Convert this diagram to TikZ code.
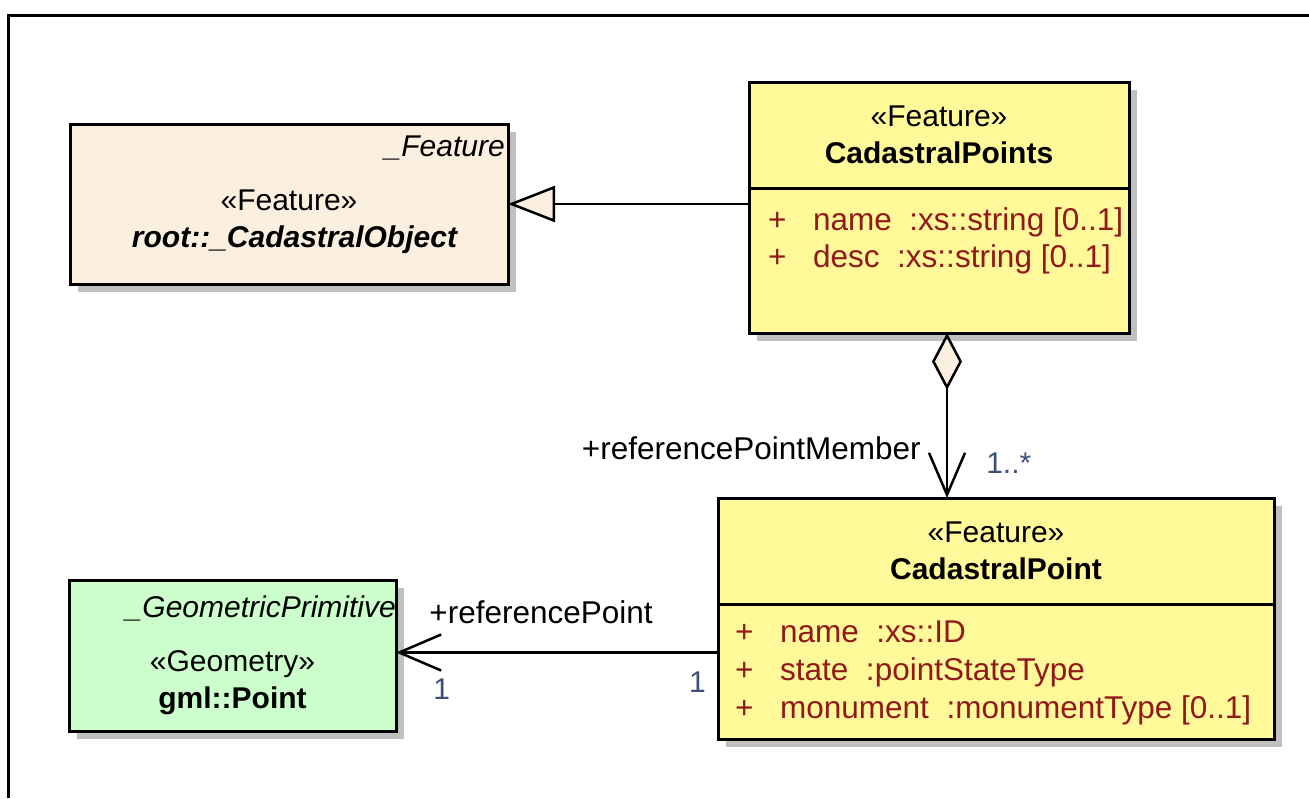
\documentclass[tikz,border=0pt]{standalone}
\usepackage{fontspec}
\setmainfont{Liberation Sans}
\usepackage{tikz}
\usetikzlibrary{arrows.meta,positioning,shadows}

\definecolor{featyellow}{RGB}{255,249,153}
\definecolor{cadbeige}{RGB}{251,240,224}
\definecolor{geomgreen}{RGB}{204,255,204}
\definecolor{attrred}{RGB}{145,25,25}
\definecolor{multblue}{RGB}{60,80,120}
\definecolor{shadowgray}{RGB}{192,192,192}

\newcommand{\vis}{\makebox[45pt][l]{+}}

\begin{document}
\begin{tikzpicture}
[x=1pt,y=-1pt,font=\fontsize{30}{37}\selectfont,
umlclass/.style={draw,line width=3pt,outer sep=0pt,inner sep=0pt,align=center,
  drop shadow={shadow xshift=8pt,shadow yshift=-8pt,fill=shadowgray,opacity=1}},
feature/.style={umlclass,fill=featyellow},
rootclass/.style={umlclass,fill=cadbeige},
geometry/.style={umlclass,fill=geomgreen},
title/.style={inner sep=0pt,align=center},
tagline/.style={inner sep=0pt,font=\fontsize{30}{37}\selectfont\itshape,anchor=east},
attrs/.style={inner sep=0pt,align=left,text=attrred,anchor=north west,font=\fontsize{31.5}{37}\selectfont},
rolelabel/.style={inner sep=0pt,font=\fontsize{31.5}{37}\selectfont},
multlabel/.style={inner sep=0pt,text=multblue},
connector/.style={line width=2.5pt},
generalization/.style={connector,-{Triangle[length=47pt,width=36pt,fill=cadbeige]}},
aggregation/.style={connector,{Diamond[length=57pt,width=30pt,fill=cadbeige]}-{Straight Barb[length=42pt,width=36pt]}},
association/.style={connector,-{Straight Barb[length=42pt,width=36pt]}}]

\useasboundingbox (0,0) rectangle (1309,798);
\draw[line width=3pt] (8,798) |- (1309,15);

% classes
\node[rootclass,minimum width=438pt,minimum height=160pt] (cadobj) at (289,204) {};
\node[tagline] (cadtag) at ([xshift=-3pt,yshift=-24pt]cadobj.north east) {\_Feature};
\node[title] (cadname) at ([yshift=-18pt]cadobj.center) {«Feature»\\\hspace*{12pt}\textbf{\textit{root::\_CadastralObject}}};

\node[feature,minimum width=380pt,minimum height=106pt] (ptshead) at (939,135) {«Feature»\\\textbf{CadastralPoints}};
\node[feature,minimum width=380pt,minimum height=145pt,below=0pt of ptshead] (ptsbody) {};
\node[attrs] (ptsattr) at ([xshift=19pt,yshift=-19pt]ptsbody.north west) {\vis name\ \ :xs::string [0..1]\\\vis desc\ \ :xs::string [0..1]};

\node[feature,minimum width=556pt,minimum height=106pt] (cpthead) at (996,551) {«Feature»\\\textbf{CadastralPoint}};
\node[feature,minimum width=556pt,minimum height=135pt,below=0pt of cpthead] (cptbody) {};
\node[attrs,font=\fontsize{31.5}{38}\selectfont] (cptattr) at ([xshift=17pt,yshift=-17pt]cptbody.north west) {\vis name\ \ :xs::ID\\\vis state\ \ :pointStateType\\\vis monument\ \ :monumentType [0..1]};

\node[geometry,minimum width=327pt,minimum height=151pt] (gmlpt) at (232.5,655.5) {};
\node[tagline] (gmltag) at ([yshift=-28pt]gmlpt.north east) {\_GeometricPrimitive};
\node[title] (gmlname) at ([yshift=-27pt]gmlpt.center) {«Geometry»\\\textbf{gml::Point}};

% connectors
\draw[generalization] (cadobj.east -| ptsbody.west) -- (cadobj.east);

\draw[aggregation] ([xshift=8pt]ptsbody.south) -- ([xshift=8pt]ptsbody.south |- cpthead.north)
  node[rolelabel,pos=0.7,left=25pt] (rpmlabel) {+referencePointMember}
  node[multlabel,pos=0.79,right=38pt] (rpmmult) {1..*};

\draw[association] ([yshift=3pt]gmlpt.east -| cptbody.west) -- ([yshift=3pt]gmlpt.east)
  node[rolelabel,pos=0.9,anchor=south west,yshift=27pt] (rplabel) {+referencePoint}
  node[multlabel,pos=0.888,anchor=north west,yshift=-25pt] (rpmultgml) {1}
  node[multlabel,pos=0.034,anchor=north east,yshift=-18pt] (rpmultcpt) {1};
\end{tikzpicture}
\end{document}
